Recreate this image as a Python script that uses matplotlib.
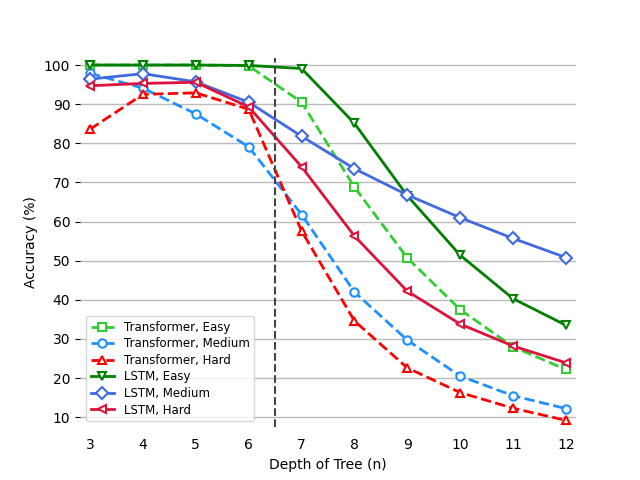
import matplotlib
matplotlib.use("Agg")
import matplotlib.pyplot as plt

depth = [3, 4, 5, 6, 7, 8, 9, 10, 11, 12]

trans_easy = [100, 100, 100, 99.8, 90.5, 68.8, 50.7, 37.5, 28.0, 22.2]
trans_medium = [97.9, 94.1, 87.5, 79.1, 61.8, 42.0, 29.7, 20.5, 15.5, 12.2]
trans_hard = [83.6, 92.5, 92.9, 88.7, 57.6, 34.6, 22.6, 16.3, 12.3, 9.2]
lstm_easy = [100, 100, 100, 99.9, 99.1, 85.1, 66.6, 51.4, 40.3, 33.5]
lstm_medium = [96.4, 97.8, 95.7, 90.5, 81.8, 73.5, 66.8, 61.0, 55.7, 50.8]
lstm_hard = [94.7, 95.3, 95.6, 89.3, 74.0, 56.3, 42.2, 33.8, 28.2, 23.9]

series = [
    ("Transformer, Easy", trans_easy, "limegreen", "--", "s"),
    ("Transformer, Medium", trans_medium, "dodgerblue", "--", "o"),
    ("Transformer, Hard", trans_hard, "red", "--", "^"),
    ("LSTM, Easy", lstm_easy, "green", "-", "v"),
    ("LSTM, Medium", lstm_medium, "royalblue", "-", "D"),
    ("LSTM, Hard", lstm_hard, "crimson", "-", "<"),
]

fig, ax = plt.subplots(figsize=(6.4, 4.8), dpi=100)
for label, vals, col, ls, mk in series:
    ax.plot(depth, vals, color=col, linestyle=ls, marker=mk, label=label,
            linewidth=2, markersize=6, markerfacecolor="white",
            markeredgewidth=1.5)

ax.axvline(6.5, color="#444444", linestyle="--", linewidth=1.5)

ax.set_xlim(2.81, 12.19)
ax.set_ylim(7.45, 101.9)
ax.set_xticks(depth)
ax.set_yticks(range(10, 101, 10))
ax.yaxis.grid(True, color="#bbbbbb", linewidth=1)
ax.set_axisbelow(True)
for s in ax.spines.values():
    s.set_visible(False)
ax.tick_params(axis="x", length=0, pad=8)
ax.set_xlabel("Depth of Tree (n)")
ax.set_ylabel("Accuracy (%)")
ax.legend(loc="lower left", fontsize=8.5, labelspacing=0.3)

plt.savefig("out.png")
